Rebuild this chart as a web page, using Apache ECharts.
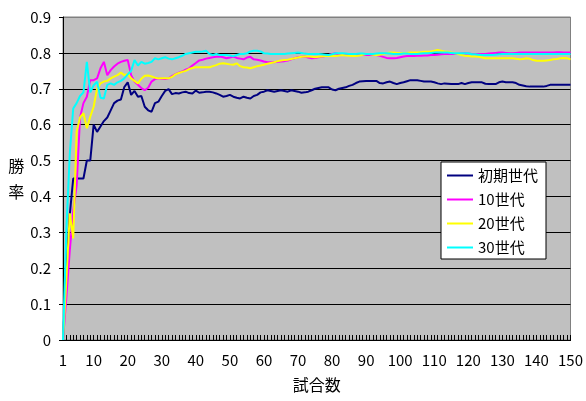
<!DOCTYPE html>
<html>
<head>
<meta charset="utf-8">
<script src="https://cdn.jsdelivr.net/npm/echarts@6/dist/echarts.min.js"></script>
<style>
  html, body { margin: 0; padding: 0; background: #fff; }
  #main { width: 586px; height: 401px; }
</style>
</head>
<body>
<div id="main"></div>
<script>
// 試合数 1..150
var games = [];
for (var g = 1; g <= 150; g++) games.push(String(g));

var seriesNames = ["初期世代", "10世代", "20世代", "30世代"];

// 初期世代
var gen0 = [
  0, 0.2, 0.35, 0.45, 0.45, 0.45, 0.45, 0.5, 0.5, 0.6,
  0.58, 0.595, 0.61, 0.62, 0.64, 0.66, 0.667, 0.67, 0.705, 0.718,
  0.683, 0.694, 0.678, 0.68, 0.65, 0.64, 0.636, 0.66, 0.664, 0.68,
  0.694, 0.699, 0.685, 0.688, 0.687, 0.69, 0.692, 0.688, 0.687, 0.695,
  0.689, 0.69, 0.692, 0.692, 0.69, 0.687, 0.683, 0.678, 0.68, 0.683,
  0.678, 0.675, 0.673, 0.678, 0.675, 0.673, 0.68, 0.683, 0.69, 0.692,
  0.696, 0.694, 0.692, 0.694, 0.696, 0.694, 0.692, 0.696, 0.694, 0.692,
  0.689, 0.69, 0.692, 0.696, 0.7, 0.702, 0.704, 0.704, 0.704, 0.698,
  0.696, 0.7, 0.702, 0.704, 0.708, 0.711, 0.716, 0.72, 0.721, 0.722,
  0.722, 0.722, 0.722, 0.716, 0.715, 0.718, 0.72, 0.716, 0.713, 0.716,
  0.718, 0.721, 0.724, 0.724, 0.724, 0.722, 0.72, 0.72, 0.72, 0.718,
  0.715, 0.713, 0.715, 0.714, 0.713, 0.713, 0.713, 0.716, 0.713, 0.716,
  0.718, 0.718, 0.718, 0.718, 0.714, 0.713, 0.713, 0.713, 0.718, 0.72,
  0.718, 0.718, 0.718, 0.716, 0.711, 0.709, 0.707, 0.706, 0.706, 0.706,
  0.706, 0.706, 0.708, 0.711, 0.711, 0.711, 0.711, 0.711, 0.711, 0.711
];

// 10世代
var gen10 = [
  0, 0.12, 0.25, 0.36, 0.43, 0.62, 0.66, 0.678, 0.724, 0.724,
  0.729, 0.757, 0.775, 0.738, 0.752, 0.762, 0.77, 0.775, 0.778, 0.78,
  0.738, 0.72, 0.711, 0.702, 0.696, 0.703, 0.72, 0.727, 0.729, 0.728,
  0.727, 0.729, 0.735, 0.741, 0.745, 0.748, 0.753, 0.757, 0.765, 0.772,
  0.779, 0.781, 0.784, 0.786, 0.788, 0.789, 0.79, 0.788, 0.785, 0.787,
  0.79, 0.786, 0.784, 0.782, 0.787, 0.789, 0.782, 0.781, 0.779, 0.776,
  0.774, 0.774, 0.774, 0.775, 0.776, 0.777, 0.779, 0.782, 0.785, 0.788,
  0.789, 0.79, 0.787, 0.785, 0.786, 0.788, 0.789, 0.791, 0.794, 0.797,
  0.799, 0.796, 0.794, 0.794, 0.794, 0.794, 0.794, 0.794, 0.794, 0.794,
  0.794, 0.794, 0.794, 0.792, 0.789, 0.786, 0.785, 0.785, 0.786, 0.788,
  0.79, 0.791, 0.791, 0.791, 0.792, 0.792, 0.793, 0.793, 0.794, 0.794,
  0.795, 0.796, 0.797, 0.797, 0.797, 0.797, 0.797, 0.798, 0.799, 0.798,
  0.797, 0.797, 0.797, 0.797, 0.797, 0.798, 0.799, 0.8, 0.801, 0.801,
  0.8, 0.799, 0.799, 0.8, 0.801, 0.801, 0.801, 0.801, 0.801, 0.801,
  0.801, 0.801, 0.801, 0.801, 0.801, 0.802, 0.802, 0.801, 0.801, 0.801
];

// 20世代
var gen20 = [
  0, 0.17, 0.353, 0.283, 0.58, 0.62, 0.632, 0.59, 0.622, 0.65,
  0.7, 0.715, 0.72, 0.722, 0.729, 0.734, 0.738, 0.745, 0.738, 0.741,
  0.729, 0.722, 0.715, 0.728, 0.736, 0.737, 0.734, 0.731, 0.729, 0.729,
  0.729, 0.729, 0.733, 0.74, 0.744, 0.747, 0.75, 0.755, 0.758, 0.76,
  0.76, 0.76, 0.76, 0.76, 0.763, 0.766, 0.77, 0.771, 0.77, 0.768,
  0.767, 0.771, 0.763, 0.76, 0.759, 0.757, 0.76, 0.763, 0.765, 0.767,
  0.77, 0.772, 0.774, 0.777, 0.779, 0.78, 0.781, 0.783, 0.785, 0.787,
  0.789, 0.79, 0.79, 0.789, 0.788, 0.789, 0.79, 0.791, 0.791, 0.791,
  0.791, 0.793, 0.794, 0.793, 0.792, 0.791, 0.791, 0.793, 0.795, 0.797,
  0.797, 0.795, 0.794, 0.795, 0.797, 0.799, 0.801, 0.801, 0.8, 0.799,
  0.799, 0.8, 0.801, 0.801, 0.801, 0.802, 0.803, 0.803, 0.804, 0.806,
  0.808, 0.806, 0.804, 0.803, 0.801, 0.799, 0.797, 0.794, 0.792, 0.791,
  0.79, 0.79, 0.789, 0.787, 0.785, 0.785, 0.785, 0.785, 0.785, 0.785,
  0.785, 0.785, 0.785, 0.784, 0.782, 0.783, 0.785, 0.784, 0.78, 0.778,
  0.778, 0.778, 0.779, 0.78, 0.782, 0.783, 0.785, 0.786, 0.785, 0.782
];

// 30世代
var gen30 = [
  0, 0.31, 0.52, 0.645, 0.66, 0.68, 0.69, 0.775, 0.69, 0.71,
  0.72, 0.675, 0.673, 0.711, 0.715, 0.711, 0.718, 0.722, 0.729, 0.74,
  0.75, 0.78, 0.765, 0.775, 0.77, 0.772, 0.775, 0.785, 0.782, 0.785,
  0.788, 0.784, 0.782, 0.785, 0.788, 0.792, 0.797, 0.799, 0.801, 0.803,
  0.803, 0.804, 0.806, 0.797, 0.794, 0.797, 0.794, 0.794, 0.794, 0.793,
  0.791, 0.794, 0.797, 0.797, 0.799, 0.804, 0.806, 0.806, 0.804, 0.799,
  0.798, 0.797, 0.797, 0.797, 0.797, 0.797, 0.798, 0.799, 0.8, 0.801,
  0.8, 0.798, 0.797, 0.797, 0.797, 0.797, 0.796, 0.795, 0.794, 0.796,
  0.799, 0.799, 0.799, 0.798, 0.797, 0.797, 0.797, 0.798, 0.798, 0.797,
  0.797, 0.797, 0.798, 0.799, 0.799, 0.799, 0.798, 0.797, 0.797, 0.797,
  0.798, 0.798, 0.797, 0.797, 0.797, 0.798, 0.799, 0.799, 0.8, 0.801,
  0.801, 0.801, 0.801, 0.801, 0.8, 0.799, 0.799, 0.799, 0.799, 0.799,
  0.796, 0.796, 0.795, 0.794, 0.794, 0.794, 0.794, 0.795, 0.796, 0.797,
  0.797, 0.797, 0.797, 0.797, 0.797, 0.797, 0.797, 0.797, 0.797, 0.797,
  0.797, 0.797, 0.797, 0.797, 0.797, 0.797, 0.797, 0.797, 0.797, 0.797
];

var colors = ["#000080", "#ff00ff", "#ffff00", "#00ffff"];
var allData = [gen0, gen10, gen20, gen30];

var font = "'Noto Sans CJK JP', 'Liberation Sans', sans-serif";

var chart = echarts.init(document.getElementById("main"), null, { renderer: "canvas" });

var seriesList = [];
for (var s = 0; s < seriesNames.length; s++) {
  seriesList.push({
    name: seriesNames[s],
    type: "line",
    xAxisIndex: 0,
    data: allData[s],
    symbol: "none",
    smooth: false,
    lineStyle: { color: colors[s], width: 2 },
    itemStyle: { color: colors[s] }
  });
}

// 横線: 0.9 の線だけ枠と同じ灰色
var gridLineColors = ["#000", "#000", "#000", "#000", "#000", "#000", "#000", "#000", "#000", "#808080"];

var gridTop = 17, gridBottom = 61, chartH = 401;
var plotH = chartH - gridTop - gridBottom;

var option = {
  animation: false,
  backgroundColor: "#ffffff",
  color: colors,
  textStyle: { fontFamily: font },
  grid: {
    left: 63, right: 13, top: gridTop, bottom: gridBottom,
    show: true,
    backgroundColor: "#c0c0c0",
    borderColor: "#808080",
    borderWidth: 1
  },
  legend: {
    orient: "vertical",
    left: 441, top: 162,
    data: seriesNames,
    icon: "rect",
    backgroundColor: "#ffffff",
    borderColor: "#000000",
    borderWidth: 1,
    borderRadius: 0,
    padding: [4, 8, 2, 6],
    itemGap: 5,
    itemWidth: 26,
    itemHeight: 2,
    textStyle: { fontFamily: font, fontSize: 15, color: "#000", lineHeight: 19 }
  },
  xAxis: [
    {
      type: "category",
      data: games,
      boundaryGap: false,
      name: "試合数",
      nameLocation: "middle",
      nameGap: 37,
      nameTextStyle: { fontFamily: font, fontSize: 16, color: "#000" },
      axisLine: { show: true, lineStyle: { color: "#000", width: 1 } },
      axisTick: { show: false },
      axisLabel: {
        interval: function (idx) { return idx === 0 || (idx + 1) % 10 === 0; },
        margin: 13,
        fontFamily: font,
        fontSize: 15,
        color: "#000"
      },
      splitLine: { show: false }
    },
    {
      // 目盛り線だけを描く補助軸（試合ごと）: 上側の軸を下端まで下げ、上向きに描く
      type: "value",
      position: "top",
      offset: -plotH,
      min: 1, max: 150, interval: 1,
      axisLine: { show: true, onZero: false, lineStyle: { color: "#000", width: 1 } },
      axisTick: { show: true, inside: false, length: 5, lineStyle: { color: "#000", width: 1 } },
      axisLabel: { show: false },
      splitLine: { show: false }
    }
  ],
  yAxis: {
    type: "value",
    min: 0, max: 0.9, interval: 0.1,
    name: "勝\n率",
    nameLocation: "middle",
    nameRotate: 0,
    nameGap: 37,
    nameTextStyle: { fontFamily: font, fontSize: 16, color: "#000", lineHeight: 26 },
    axisLine: { show: true, lineStyle: { color: "#000", width: 1 } },
    axisTick: { show: true, inside: false, length: 4, lineStyle: { color: "#000" } },
    axisLabel: {
      margin: 12,
      fontFamily: font,
      fontSize: 15,
      color: "#000",
      formatter: function (v) { return v === 0 ? "0" : v.toFixed(1); }
    },
    splitLine: { show: true, lineStyle: { color: gridLineColors, width: 1 } }
  },
  series: seriesList
};

chart.setOption(option);
</script>
</body>
</html>
